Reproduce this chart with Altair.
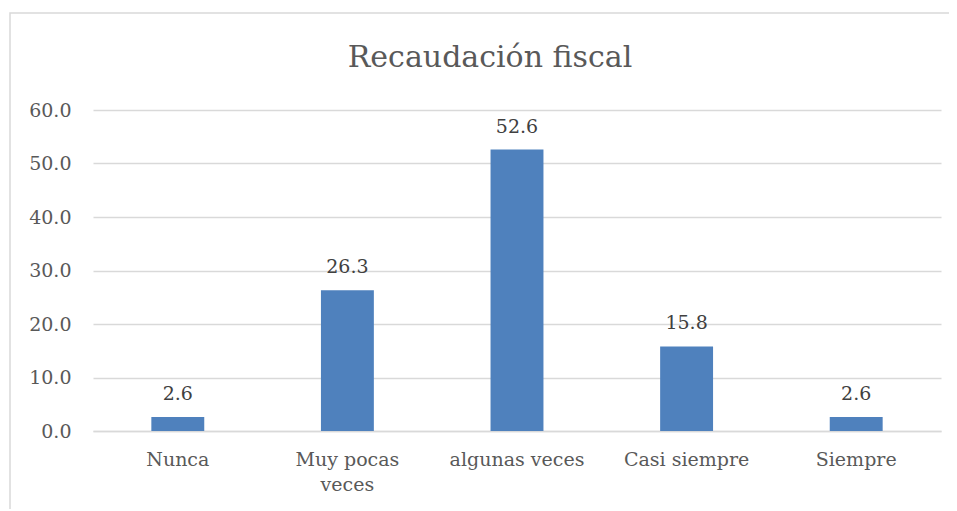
import altair as alt
import pandas as pd

title_text = "Recaudación fiscal"
categories = ["Nunca", "Muy pocas veces", "algunas veces", "Casi siempre", "Siempre"]
values = [2.6, 26.3, 52.6, 15.8, 2.6]
y_ticks = [0, 10, 20, 30, 40, 50, 60]

df = pd.DataFrame({"cat": categories, "val": values})

FONT = "DejaVu Serif"
W, H = 848, 321

x_enc = alt.X(
    "cat:N",
    sort=categories,
    scale=alt.Scale(paddingInner=0.688, paddingOuter=0.344),
    axis=alt.Axis(
        title=None,
        labelAngle=0,
        ticks=False,
        domain=True,
        domainColor="#D9D9D9",
        domainWidth=1.3,
        labelPadding=19,
        labelFont=FONT,
        labelFontSize=19,
        labelColor="#595959",
        labelLineHeight=25,
        labelBaseline="top",
        labelExpr="datum.label == 'Muy pocas veces' ? ['Muy pocas', 'veces'] : datum.label",
    ),
)
y_enc = alt.Y(
    "val:Q",
    scale=alt.Scale(domain=[0, 60], nice=False),
    axis=alt.Axis(
        title=None,
        values=y_ticks,
        format=".1f",
        ticks=False,
        domain=False,
        gridColor="#D9D9D9",
        gridWidth=1.3,
        labelPadding=22,
        labelFont=FONT,
        labelFontSize=19,
        labelColor="#595959",
    ),
)

bars = alt.Chart(df).mark_bar(color="#4F81BD").encode(x=x_enc, y=y_enc)

labels = alt.Chart(df).mark_text(
    font=FONT, fontSize=19, color="#404040", baseline="bottom", dy=-13
).encode(
    x=alt.X("cat:N", sort=categories),
    y=alt.Y("val:Q"),
    text=alt.Text("val:Q", format=".1f"),
)

title = alt.Chart(pd.DataFrame({"t": [title_text]})).mark_text(
    font=FONT, fontSize=30, color="#595959", baseline="alphabetic", align="center"
).encode(text="t:N", x=alt.value(490 - 93), y=alt.value(67 - 110))

border = alt.Chart(pd.DataFrame({"t": [0]})).mark_rect(
    fill=None, stroke="#D9D9D9", strokeWidth=1.5, clip=False
).encode(
    x=alt.value(10 - 93), x2=alt.value(1200), y=alt.value(13 - 110), y2=alt.value(800)
)

chart = (
    alt.layer(border, bars, labels, title)
    .properties(
        width=W,
        height=H,
        padding={"left": 85, "top": 102, "right": 8, "bottom": 78},
        autosize=alt.AutoSizeParams(type="none"),
        background="white",
    )
    .configure_view(stroke=None)
)

chart.save("out.html", embed_options={"renderer": "svg", "actions": False})
